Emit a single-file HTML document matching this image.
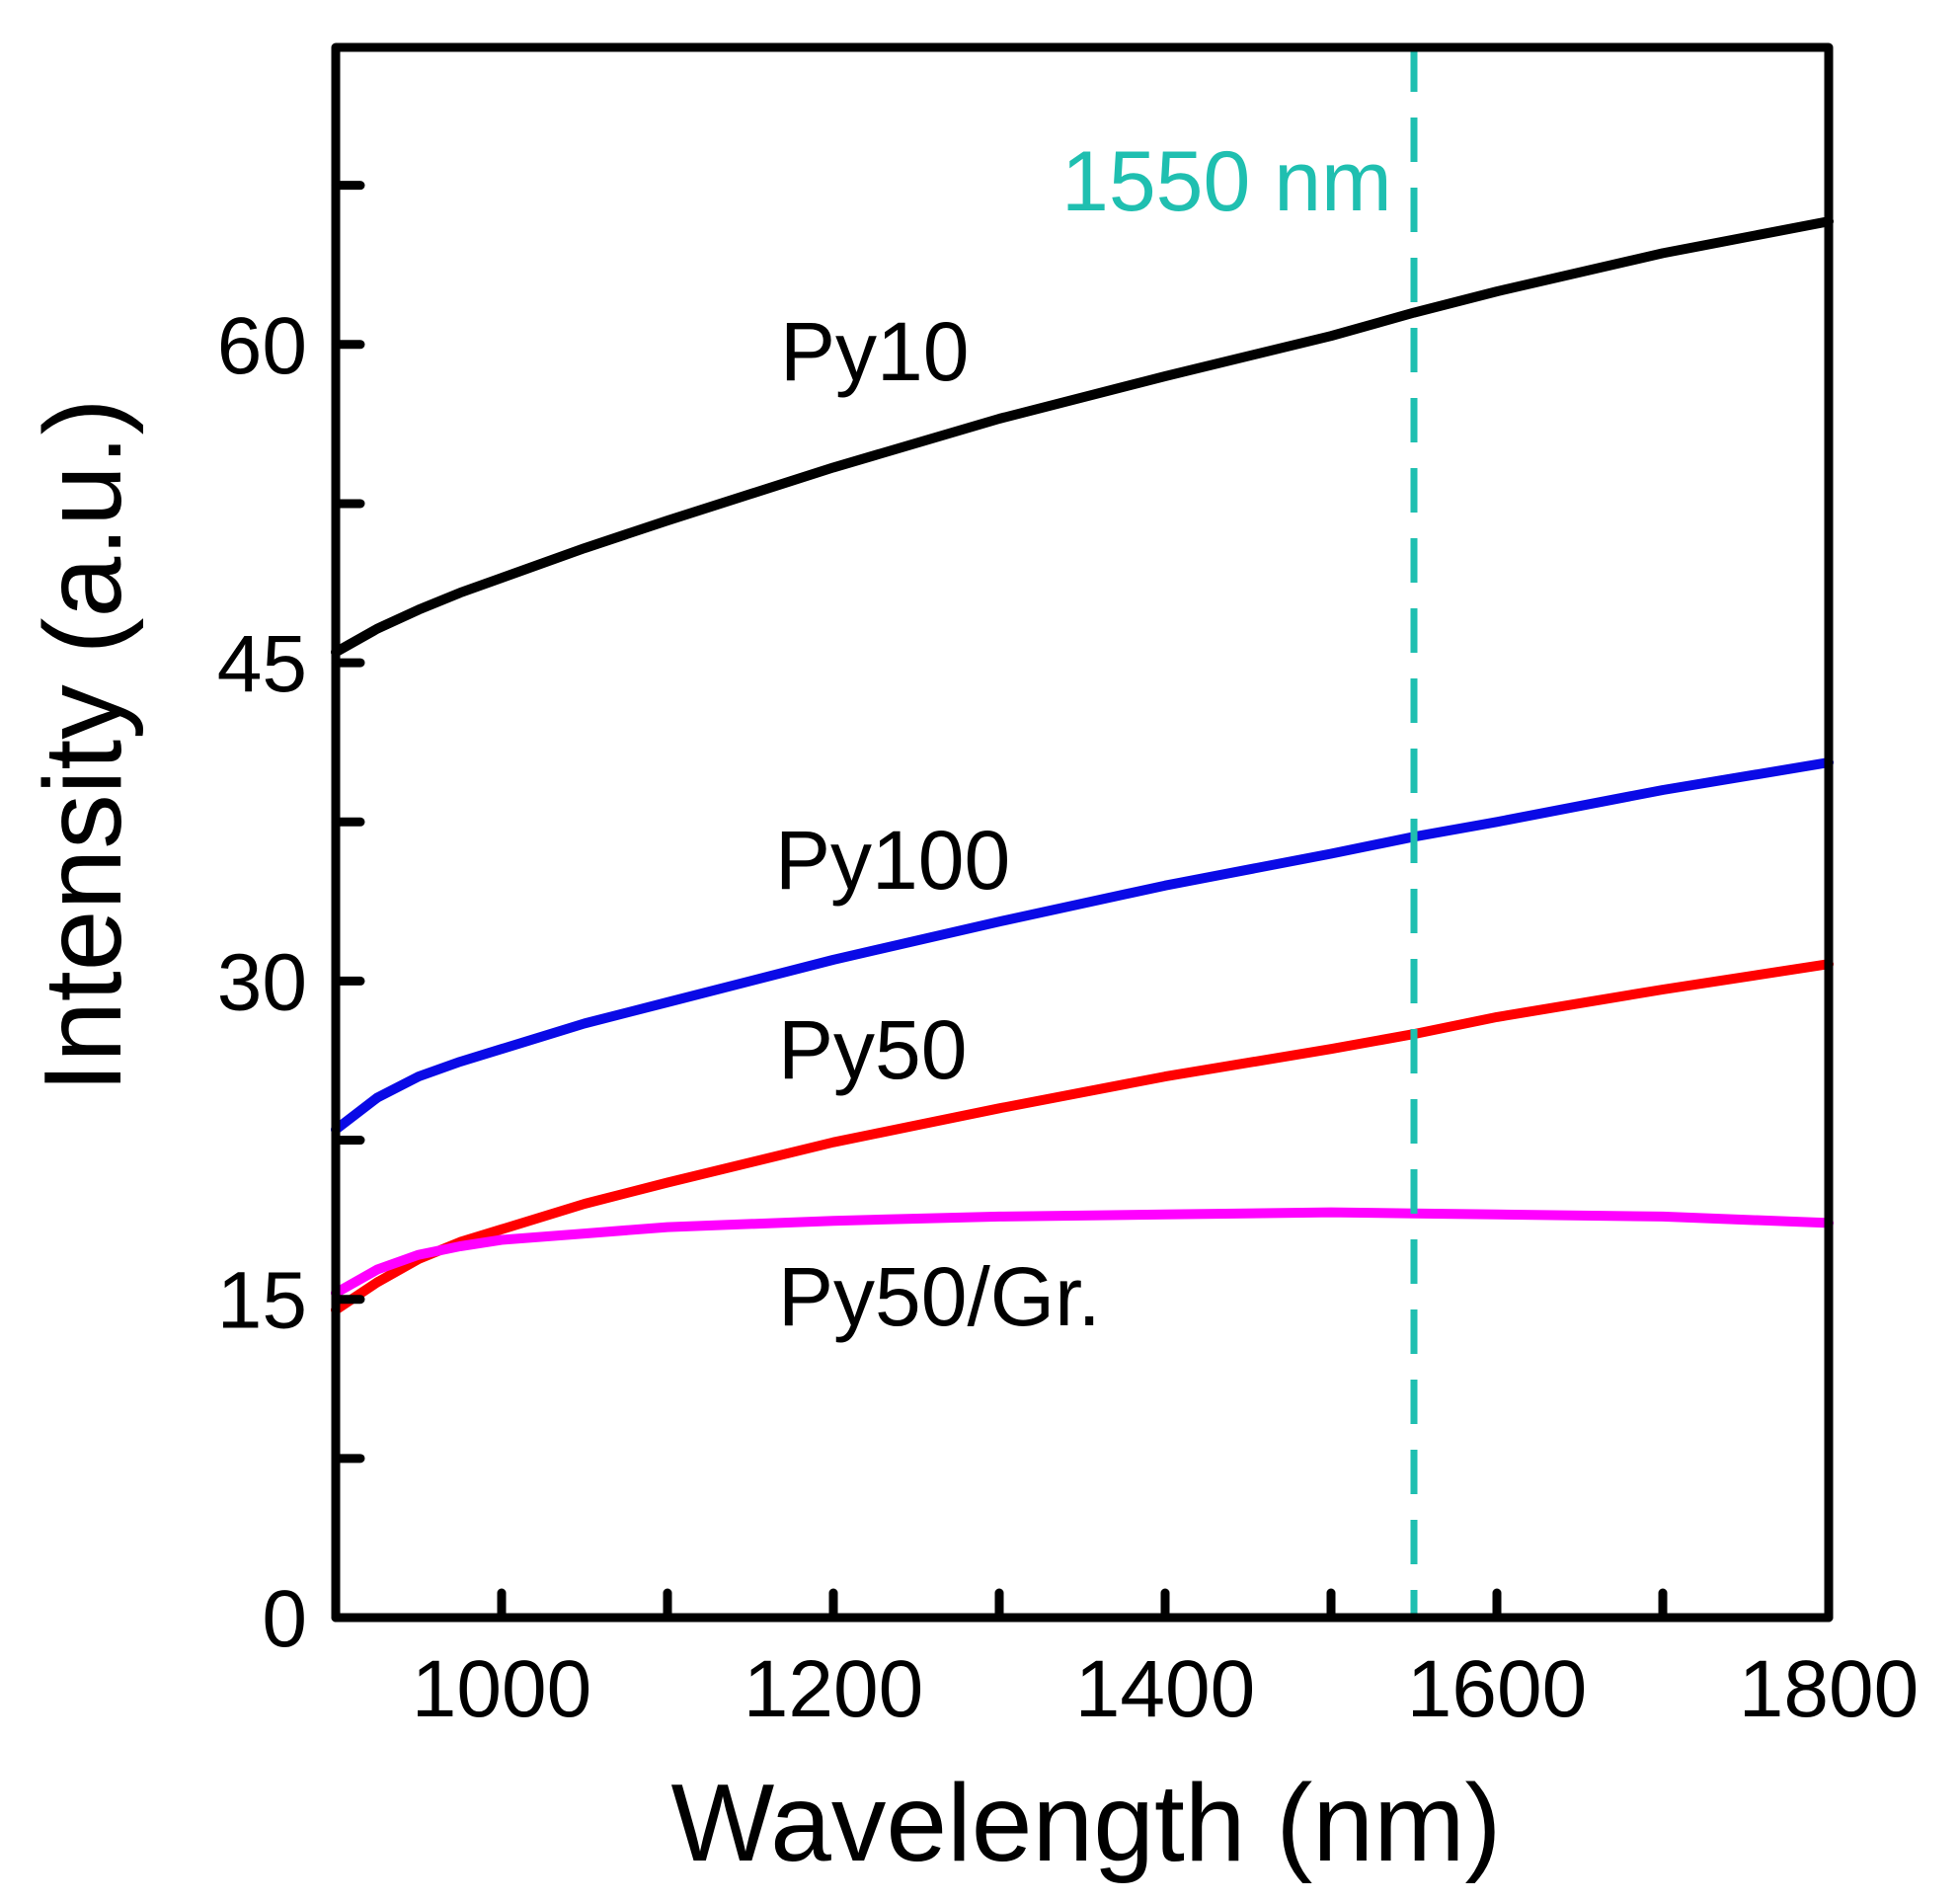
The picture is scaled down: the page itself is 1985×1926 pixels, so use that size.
<!DOCTYPE html>
<html><head><meta charset="utf-8"><style>
html,body{margin:0;padding:0;background:#fff}
svg{display:block;font-family:"Liberation Sans",Arial,sans-serif}
</style></head><body>
<svg id="chart" width="1985" height="1926" viewBox="0 0 1985 1926" xmlns="http://www.w3.org/2000/svg">
<g id="marks"></g>
<g id="axes"></g>
</svg>
<script>
const wavelengths = [900, 925, 950, 975, 1000, 1050, 1100, 1200, 1300, 1400, 1500, 1550, 1600, 1700, 1800];
const py10 = [45.5, 46.6, 47.5, 48.3, 49, 50.4, 51.7, 54.2, 56.5, 58.5, 60.4, 61.5, 62.5, 64.3, 65.8];
const py100 = [23, 24.5, 25.5, 26.2, 26.8, 28, 29, 31, 32.8, 34.5, 36, 36.8, 37.5, 39, 40.3];
const py50 = [14.5, 15.8, 16.9, 17.7, 18.3, 19.5, 20.5, 22.4, 24, 25.5, 26.8, 27.5, 28.3, 29.6, 30.8];
const py50gr = [15.3, 16.4, 17.1, 17.5, 17.8, 18.1, 18.4, 18.7, 18.9, 19, 19.1, 19.05, 19, 18.9, 18.6];
const xTicks = [1000, 1200, 1400, 1600, 1800];
const xMinor = [1100, 1300, 1500, 1700];
const yTicks = [0, 15, 30, 45, 60];
const yMinor = [7.5, 22.5, 37.5, 52.5, 67.5];
const marker = 1550;

const L=340,R=1852,T=48,B=1638,X0=900,X1=1800,Y0=0,Y1=74;
const sx=v=>L+(v-X0)/(X1-X0)*(R-L);
const sy=v=>B-(v-Y0)/(Y1-Y0)*(B-T);
const NS="http://www.w3.org/2000/svg";
const marks=document.getElementById('marks'), axes=document.getElementById('axes');
function mk(tag,attrs,parent){const e=document.createElementNS(NS,tag);for(const k in attrs)e.setAttribute(k,attrs[k]);parent.appendChild(e);return e;}

function series(vals,color,name){
  const d=wavelengths.map((w,i)=>(i?'L':'M')+sx(w).toFixed(1)+','+sy(vals[i]).toFixed(1)).join('');
  const p=mk('path',{d:d,fill:'none',stroke:color,'stroke-width':10,'stroke-linejoin':'round','stroke-linecap':'round'},marks);
  
  
}
series(py10,'#000','line-py10');
series(py100,'#0a0ae6','line-py100');
series(py50,'#f00','line-py50');
series(py50gr,'#f0f','line-py50-gr');

const dl=mk('line',{x1:sx(marker),x2:sx(marker),y1:T,y2:B,stroke:'#1fbfb0','stroke-width':7,'stroke-dasharray':'45 26'},marks);



function txt(s,x,y,size,anchor,name,color,extra){const t=mk('text',Object.assign({x:x,y:y,'font-size':size,'text-anchor':anchor,fill:color||'#000'},extra||{}),axes);t.textContent=s;

return t;}

txt('1550 nm',1075,213,86,'start','marker-1550-label','#1fbfb0');
txt('Py10',790,385,84,'start','label-py10');
txt('Py100',785,900,84,'start','label-py100');
txt('Py50',788,1092,84,'start','label-py50');
txt('Py50/Gr.',788,1342,84,'start','label-py50-gr');

const frame=mk('rect',{x:L,y:T,width:R-L,height:B-T,fill:'none',stroke:'#000','stroke-width':9,'stroke-linejoin':'round'},axes);



xTicks.concat(xMinor).forEach(v=>{const l=mk('line',{x1:sx(v),x2:sx(v),y1:B,y2:B-25,stroke:'#000','stroke-width':9,'stroke-linecap':'round'},axes);

});
xTicks.forEach(v=>txt(String(v),sx(v),1738,82,'middle','x-tick-label'));
yTicks.concat(yMinor).forEach(v=>{const l=mk('line',{x1:L,x2:L+25,y1:sy(v),y2:sy(v),stroke:'#000','stroke-width':9,'stroke-linecap':'round'},axes);

});
yTicks.forEach(v=>txt(String(v),311,sy(v)+29,82,'end','y-tick-label'));

txt('Wavelength (nm)',1100,1884,111,'middle','x-axis-title');
txt('Intensity (a.u.)',122,755,111,'middle','y-axis-title','#000',{transform:'rotate(-90 122 755)'});
</script>
</body></html>
